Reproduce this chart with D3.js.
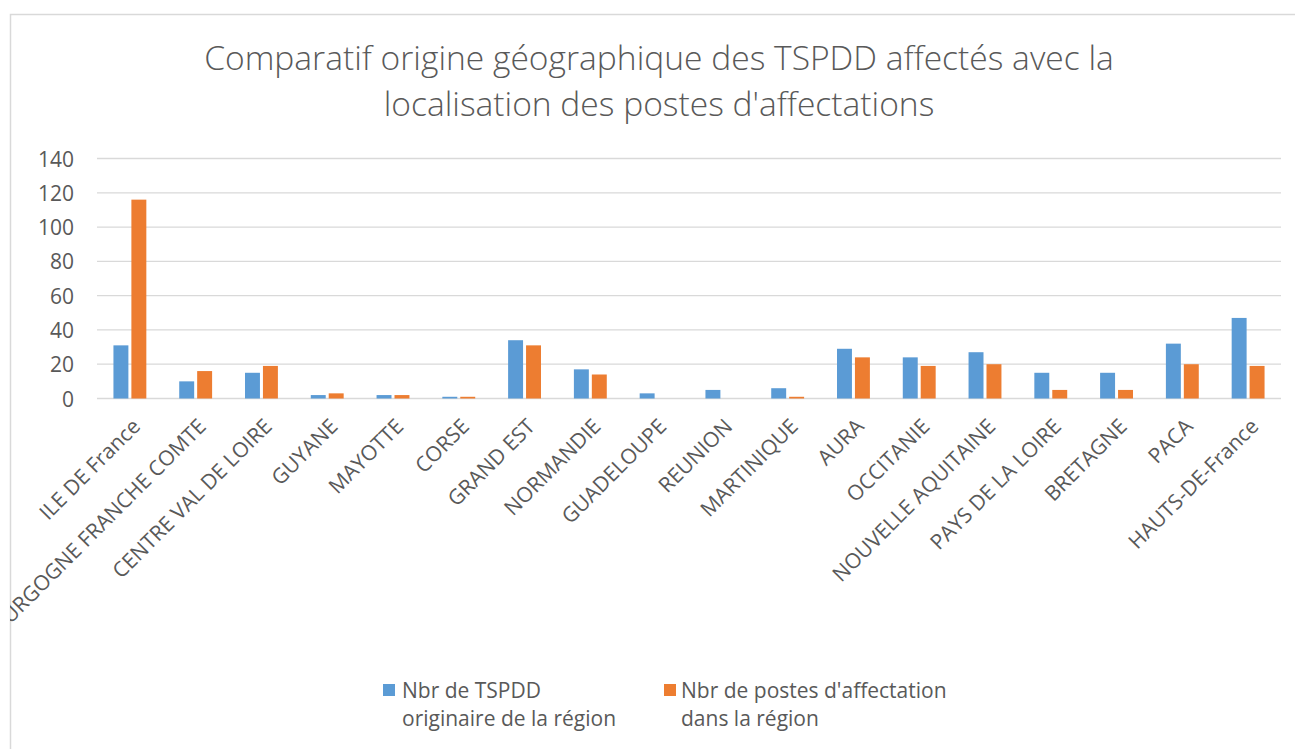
<!DOCTYPE html>
<html>
<head>
<meta charset="utf-8">
<script src="https://cdn.jsdelivr.net/npm/d3@7"></script>
<style>
  body { margin: 0; background: #fff; }
  svg { font-family: "Open Sans", sans-serif; }
</style>
</head>
<body>
<svg id="chart" width="1295" height="749"></svg>
<script>
var regions = ["ILE DE France", "BOURGOGNE FRANCHE COMTE", "CENTRE VAL DE LOIRE", "GUYANE", "MAYOTTE",
  "CORSE", "GRAND EST", "NORMANDIE", "GUADELOUPE", "REUNION", "MARTINIQUE", "AURA", "OCCITANIE",
  "NOUVELLE AQUITAINE", "PAYS DE LA LOIRE", "BRETAGNE", "PACA", "HAUTS-DE-France"];
var originaires = [31, 10, 15, 2, 2, 1, 34, 17, 3, 5, 6, 29, 24, 27, 15, 15, 32, 47];
var postes = [116, 16, 19, 3, 2, 1, 31, 14, 0, 0, 1, 24, 19, 20, 5, 5, 20, 19];
var seriesNames = [
  ["Nbr de TSPDD", "originaire de la région"],
  ["Nbr de postes d'affectation", "dans la région"]
];
var yTicks = [0, 20, 40, 60, 80, 100, 120, 140];
var colors = ["#5B9BD5", "#ED7D31"];

var svg = d3.select("#chart");

// chart area border (goes off the right / bottom of the picture)
svg.append("defs").append("clipPath").attr("id", "area")
  .append("rect").attr("x", 10).attr("y", 14).attr("width", 1300).attr("height", 760);

svg.append("rect")
  .attr("x", 10.5).attr("y", 14.5).attr("width", 1310).attr("height", 760)
  .attr("fill", "#fff").attr("stroke", "#D9D9D9").attr("stroke-width", 1.5);

var g = svg.append("g").attr("clip-path", "url(#area)");

// title
var title = g.append("text")
  .attr("text-anchor", "middle")
  .attr("fill", "#595959")
  .style("font-size", "33.6px")
  .style("font-weight", 300);
title.append("tspan").attr("x", 659).attr("y", 70).text("Comparatif origine géographique des TSPDD affectés avec la");
title.append("tspan").attr("x", 659).attr("y", 116).text("localisation des postes d'affectations");

var x0 = d3.scaleBand().domain(regions).range([97, 1281]).paddingInner(0.5).paddingOuter(0.25);
var x1 = d3.scaleBand().domain([0, 1]).range([0, x0.bandwidth()]).paddingInner(0.167);
var y = d3.scaleLinear().domain([0, 140]).range([398.5, 158.5]);

// gridlines
g.append("g").selectAll("line").data(yTicks).join("line")
  .attr("x1", 97).attr("x2", 1281)
  .attr("y1", d => y(d)).attr("y2", d => y(d))
  .attr("stroke", "#D9D9D9").attr("stroke-width", 1.3);

// y labels
var yAxis = d3.axisLeft(y).tickValues(yTicks).tickSize(0).tickPadding(0);
var ya = g.append("g").attr("transform", "translate(74,0)").call(yAxis);
ya.select(".domain").remove();
ya.selectAll("text").attr("fill", "#595959").style("font-size", "21px")
  .style("font-family", "'Open Sans', sans-serif").attr("dy", "0.36em");

// bars
var rows = regions.map((r, i) => ({ region: r, vals: [originaires[i], postes[i]] }));
g.append("g").selectAll("g").data(rows).join("g")
  .attr("transform", d => "translate(" + x0(d.region) + ",0)")
  .selectAll("rect").data(d => d.vals.map((v, k) => ({ k: k, v: v }))).join("rect")
  .attr("x", d => x1(d.k))
  .attr("width", x1.bandwidth())
  .attr("y", d => y(d.v))
  .attr("height", d => y(0) - y(d.v))
  .attr("fill", d => colors[d.k]);

// x labels (the long second one is clipped by the chart border, as in the original)
var xAxis = d3.axisBottom(x0).tickSize(0).tickPadding(0);
var xa = g.append("g").attr("transform", "translate(0,417)").call(xAxis);
xa.select(".domain").remove();
xa.selectAll("text")
  .attr("fill", "#595959").style("font-size", "21px")
  .style("font-family", "'Open Sans', sans-serif")
  .attr("text-anchor", "end")
  .attr("transform", "translate(1,0) rotate(-45)")
  .attr("x", 0).attr("y", 0).attr("dy", "0.72em");

// legend
var legendX = [383, 664];
var lg = g.append("g").selectAll("g").data(seriesNames).join("g")
  .attr("transform", (d, i) => "translate(" + legendX[i] + ",0)");
lg.append("rect").attr("x", 0).attr("y", 684).attr("width", 12).attr("height", 12)
  .attr("fill", (d, i) => colors[i]);
var lt = lg.append("text").attr("fill", "#595959").style("font-size", "21px");
lt.append("tspan").attr("x", (d, i) => i ? 17 : 19).attr("y", 698).text(d => d[0]);
lt.append("tspan").attr("x", (d, i) => i ? 17 : 19).attr("y", 726).text(d => d[1]);
</script>
</body>
</html>
